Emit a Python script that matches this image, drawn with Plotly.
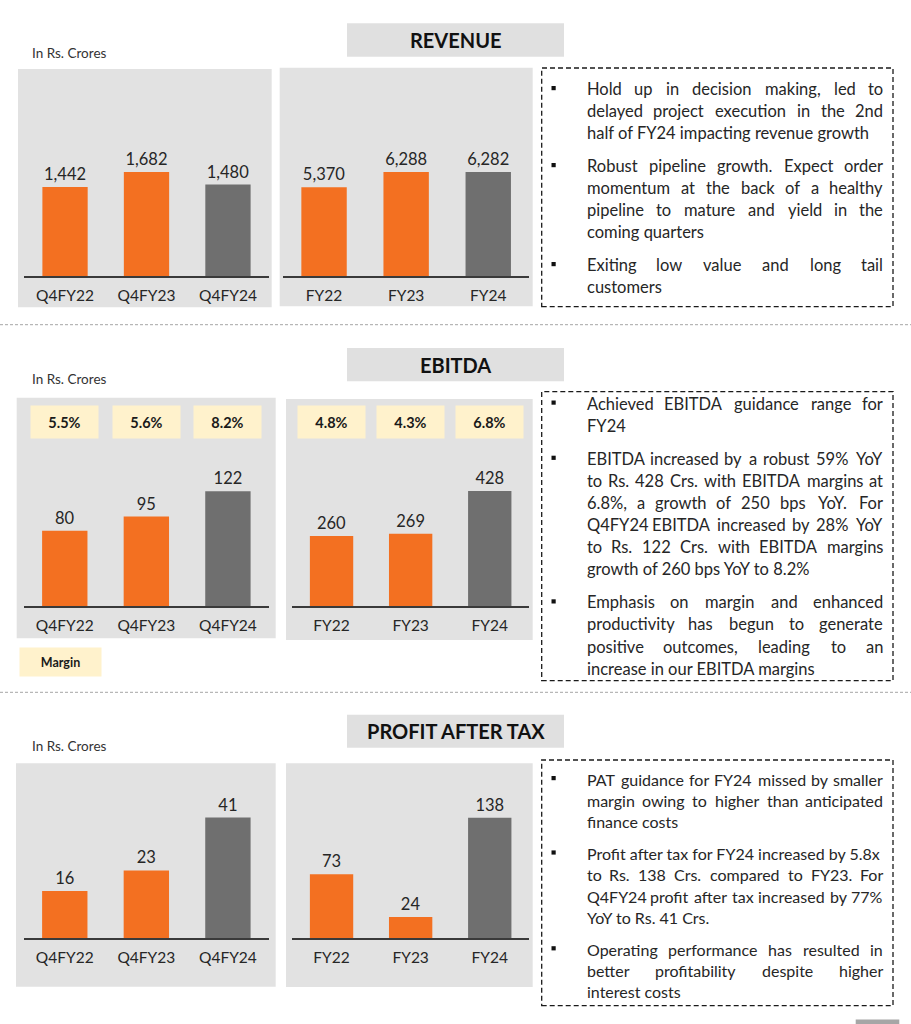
import plotly.graph_objects as go

# ---------------- data ----------------
quarters = ["Q4FY22", "Q4FY23", "Q4FY24"]
years = ["FY22", "FY23", "FY24"]

revenue_q = [1442, 1682, 1480]
revenue_y = [5370, 6288, 6282]
ebitda_q = [80, 95, 122]
ebitda_y = [260, 269, 428]
margin_q = ["5.5%", "5.6%", "8.2%"]
margin_y = ["4.8%", "4.3%", "6.8%"]
pat_q = [16, 23, 41]
pat_y = [73, 24, 138]

section_titles = ["REVENUE", "EBITDA", "PROFIT AFTER TAX"]
unit_label = "In Rs. Crores"
margin_legend = "Margin"

revenue_notes = [
    ["Hold up in decision making, led to",
     "delayed project execution in the 2nd",
     "half of FY24 impacting revenue growth"],
    ["Robust pipeline growth. Expect order",
     "momentum at the back of a healthy",
     "pipeline to mature and yield in the",
     "coming quarters"],
    ["Exiting low value and long tail",
     "customers"],
]
ebitda_notes = [
    ["Achieved EBITDA guidance range for",
     "FY24"],
    ["EBITDA increased by a robust 59% YoY",
     "to Rs. 428 Crs. with EBITDA margins at",
     "6.8%, a growth of 250 bps YoY. For",
     "Q4FY24 EBITDA increased by 28% YoY",
     "to Rs. 122 Crs. with EBITDA margins",
     "growth of 260 bps YoY to 8.2%"],
    ["Emphasis on margin and enhanced",
     "productivity has begun to generate",
     "positive outcomes, leading to an",
     "increase in our EBITDA margins"],
]
pat_notes = [
    ["PAT guidance for FY24 missed by smaller",
     "margin owing to higher than anticipated",
     "finance costs"],
    ["Profit after tax for FY24 increased by 5.8x",
     "to Rs. 138 Crs. compared to FY23. For",
     "Q4FY24 profit after tax increased by 77%",
     "YoY to Rs. 41 Crs."],
    ["Operating performance has resulted in",
     "better profitability despite higher",
     "interest costs"],
]

# ---------------- styles ----------------
W, H = 911, 1024
FONT = "Lato"
ORANGE = "#F37021"
GREY_BAR = "#6F6F6F"
PANEL = "#E2E2E2"
TITLE_BG = "#E0E0E0"
MARGIN_BG = "#FFF2CC"
TXT = "#262626"
BAR_COLORS = [ORANGE, ORANGE, GREY_BAR]
LABEL_SIZE = 16.5
TICK_SIZE = 15.5


def X(px):
    return px / W


def Y(py):
    return 1 - py / H


fig = go.Figure()
shapes = []
annotations = []

# panel definitions: (categories, values, x-domain px, y base/top px, range max, bar width)
panels = [
    (quarters, revenue_q, (24.3, 268.7), (276, 80), 3172, 0.556),
    (years, revenue_y, (283, 529.3), (276, 80), 11843, 0.553),
    (quarters, ebitda_q, (24, 268.7), (606, 445), 171, 0.556),
    (years, ebitda_y, (292, 529.3), (606, 445), 599, 0.548),
    (quarters, pat_q, (24, 268.7), (938, 780), 53.8, 0.556),
    (years, pat_y, (292, 529.3), (938, 780), 181.2, 0.548),
]

layout_axes = {}
for i, (cats, vals, xd, yd, rmax, bw) in enumerate(panels, start=1):
    sfx = "" if i == 1 else str(i)
    fig.add_trace(go.Bar(
        x=cats, y=vals,
        xaxis="x" + sfx, yaxis="y" + sfx,
        width=bw,
        marker=dict(color=BAR_COLORS, line=dict(width=0)),
        text=[f"{v:,}" for v in vals],
        textposition="outside",
        constraintext="none",
        textfont=dict(family=FONT, size=LABEL_SIZE, color=TXT),
        cliponaxis=False,
        hoverinfo="skip",
        showlegend=False,
    ))
    layout_axes["xaxis" + sfx] = dict(
        domain=[X(xd[0]), X(xd[1])], anchor="y" + sfx,
        type="category", range=[-0.5, 2.5],
        showline=True, linecolor="#3A3A3A", linewidth=2,
        ticks="", showgrid=False, zeroline=False,
        tickfont=dict(family=FONT, size=TICK_SIZE, color=TXT),
        ticklabelstandoff=4, fixedrange=True,
    )
    layout_axes["yaxis" + sfx] = dict(
        domain=[Y(yd[0]), Y(yd[1])], anchor="x" + sfx,
        range=[0, rmax], visible=False, fixedrange=True,
    )

# gray panels behind charts
panel_boxes = [
    (18, 69, 271.7, 307.3), (279.7, 67.7, 532.7, 306.3),
    (16.7, 397.7, 275.7, 638.3), (286, 399, 532.7, 640),
    (16, 763.3, 275.7, 986.7), (286, 763.3, 532.7, 987),
]
for x0, y0, x1, y1 in panel_boxes:
    shapes.append(dict(type="rect", xref="paper", yref="paper",
                       x0=X(x0), x1=X(x1), y0=Y(y1), y1=Y(y0),
                       fillcolor=PANEL, line=dict(width=0), layer="below"))

# section title boxes
title_boxes = [(23.3, 56.7), (348, 381.3), (714.7, 747.7)]
for title, (t0, t1) in zip(section_titles, title_boxes):
    shapes.append(dict(type="rect", xref="paper", yref="paper",
                       x0=X(347), x1=X(564), y0=Y(t1), y1=Y(t0),
                       fillcolor=TITLE_BG, line=dict(width=0), layer="below"))
    annotations.append(dict(text="<b>" + title + "</b>", x=X(455.5), y=Y((t0 + t1) / 2),
                            xref="paper", yref="paper", showarrow=False,
                            xanchor="center", yanchor="middle",
                            font=dict(family=FONT, size=20, color="#111111")))

# unit labels
for uy in (52.7, 379.3, 746):
    annotations.append(dict(text=unit_label, x=X(30), y=Y(uy), xref="paper", yref="paper",
                            showarrow=False, xanchor="left", yanchor="middle",
                            font=dict(family=FONT, size=13.5, color="#333333")))

# dashed separators
for sy in (324.7, 692.3):
    shapes.append(dict(type="line", xref="paper", yref="paper",
                       x0=0, x1=1, y0=Y(sy), y1=Y(sy),
                       line=dict(color="#A6A6A6", width=1, dash="3px,2px")))

# margin boxes (EBITDA)
for axis, cats, labels in (("x3", quarters, margin_q), ("x4", years, margin_y)):
    for c, m in zip(cats, labels):
        annotations.append(dict(text="<b>" + m + "</b>", x=c, y=Y(421.5),
                                xref=axis, yref="paper", showarrow=False,
                                xanchor="center", yanchor="middle",
                                width=67, height=32, borderpad=0,
                                bgcolor=MARGIN_BG,
                                font=dict(family=FONT, size=14.5, color="#1A1A1A")))
annotations.append(dict(text="<b>" + margin_legend + "</b>", x=X(60.5), y=Y(661.5),
                        xref="paper", yref="paper", showarrow=False,
                        xanchor="center", yanchor="middle",
                        width=81, height=28, borderpad=0, bgcolor=MARGIN_BG,
                        font=dict(family=FONT, size=12.5, color="#1A1A1A")))

# commentary boxes
CW = dict(a=.50, b=.56, c=.46, d=.56, e=.53, f=.32, g=.50, h=.56, i=.24, j=.24, k=.50,
          l=.24, m=.84, n=.56, o=.56, p=.56, q=.56, r=.37, s=.42, t=.35, u=.56, v=.51,
          w=.78, x=.50, y=.51, z=.45,
          A=.68, B=.64, C=.66, D=.74, E=.56, F=.54, G=.72, H=.75, I=.29, J=.39, K=.66,
          L=.51, M=.91, N=.76, O=.79, P=.60, Q=.79, R=.63, S=.53, T=.58, U=.73, V=.68,
          W=1.0, X=.65, Y=.62, Z=.61)
CW.update({d: .58 for d in "0123456789"})
CW.update({" ": .19, ".": .23, ",": .23, "%": .82, "'": .2, "-": .36, "(": .3, ")": .3})


def est_w(s, size):
    return sum(CW.get(ch, .55) for ch in s) * size


TX0, TX1 = 586, 884


def add_text(txt, xpx, ypx, anchor, size):
    annotations.append(dict(text=txt, x=X(xpx), y=Y(ypx), xref="paper", yref="paper",
                            showarrow=False, xanchor=anchor, yanchor="middle",
                            borderpad=0,
                            font=dict(family=FONT, size=size, color=TXT)))


def place_line(line, ypx, justify, size):
    words = line.split()
    if not justify or len(words) < 2:
        add_text(line, TX0, ypx, "left", size)
        return
    ws = [est_w(w, size) for w in words]
    gap = (TX1 - TX0 - sum(ws)) / (len(words) - 1)
    if gap < est_w(" ", size) * 1.6:
        add_text(line, TX0, ypx, "left", size)
        return
    cur = TX0
    for k, (w, wd) in enumerate(zip(words, ws)):
        if k == 0:
            add_text(w, TX0, ypx, "left", size)
        elif k == len(words) - 1:
            add_text(w, TX1, ypx, "right", size)
        else:
            add_text(w, cur + wd / 2, ypx, "center", size)
        cur += wd + gap


note_sections = [
    (revenue_notes, (68, 306.7), 89, 22.0, 11, 16.5),
    (ebitda_notes, (391.7, 680.7), 403.5, 22.1, 11, 16.5),
    (pat_notes, (760, 1005.7), 779, 21.4, 10.2, 16.0),
]
for notes, (b0, b1), y_first, lh, pgap, fsize in note_sections:
    shapes.append(dict(type="rect", xref="paper", yref="paper",
                       x0=X(541.7), x1=X(893), y0=Y(b1), y1=Y(b0),
                       line=dict(color="#1A1A1A", width=1.3, dash="5px,3px"),
                       fillcolor="rgba(0,0,0,0)"))
    ycur = y_first
    for para in notes:
        shapes.append(dict(type="rect", xref="paper", yref="paper",
                           x0=X(551.5), x1=X(555.7), y0=Y(ycur + 1.2), y1=Y(ycur - 3),
                           fillcolor="#111111", line=dict(width=0)))
        for li, line in enumerate(para):
            place_line(line, ycur, li < len(para) - 1, fsize)
            ycur += lh
        ycur += pgap

# small page tab
shapes.append(dict(type="rect", xref="paper", yref="paper",
                   x0=X(855.7), x1=X(899.3), y0=0, y1=Y(1019.5),
                   fillcolor="#A6A6A6", line=dict(width=0)))

fig.update_layout(
    width=W, height=H,
    margin=dict(l=0, r=0, t=0, b=0),
    paper_bgcolor="white",
    plot_bgcolor="rgba(0,0,0,0)",
    font=dict(family=FONT, color=TXT),
    shapes=shapes,
    annotations=annotations,
    showlegend=False,
    **layout_axes,
)

fig.write_html(
    "out.html",
    config={"displayModeBar": False},
    post_script="document.body.style.margin='0';document.body.style.overflow='hidden';",
)
